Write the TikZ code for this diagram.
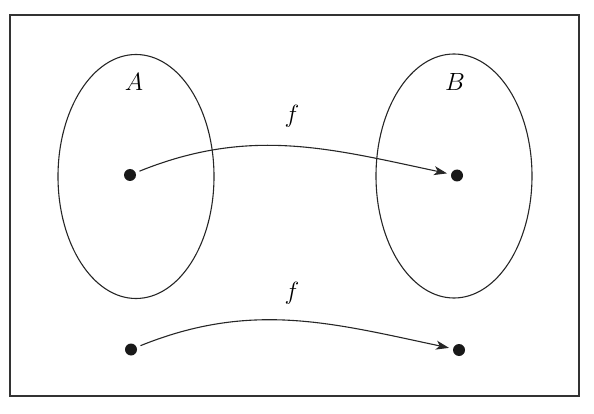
\documentclass[tikz,border=0pt]{standalone}
\usetikzlibrary{arrows.meta,shapes.geometric}
\begin{document}
\begin{tikzpicture}[x=1pt,y=-1pt,
  setline/.style={draw=black!85, line width=1.1pt},
  pt/.style={circle, fill=black!90, inner sep=0pt, minimum size=12pt},
  lab/.style={font=\fontsize{32}{36}\selectfont},
  maparrow/.style={draw=black!85, line width=1.1pt, -{Stealth[length=13pt,width=9pt,inset=3.5pt]}, shorten <=4pt, shorten >=4pt}]
  \useasboundingbox (0,0) rectangle (594,414);
  \node[draw=black!80, line width=1.3pt, minimum width=569pt, minimum height=381pt, inner sep=0pt] (frame) at (294.5,205.5) {};
  \node[setline, ellipse, minimum width=156pt, minimum height=244pt, inner sep=0pt] (setA) at (136,176.5) {};
  \node[setline, ellipse, minimum width=156pt, minimum height=244pt, inner sep=0pt] (setB) at (454,176) {};
  \node[lab] (lA) at (134,82) {$A$};
  \node[lab] (lB) at (455,82) {$B$};
  \node[pt] (a) at (130,175) {};
  \node[pt] (b) at (457,175.5) {};
  \node[pt] (c) at (131,349.5) {};
  \node[pt] (d) at (459,350) {};
  \draw[maparrow] (a) to[out=22,in=168] (b);
  \draw[maparrow] (c) to[out=22,in=168] (d);
  \node[lab] (f1) at (292,116) {$f$};
  \node[lab] (f2) at (292,293) {$f$};
\end{tikzpicture}
\end{document}
